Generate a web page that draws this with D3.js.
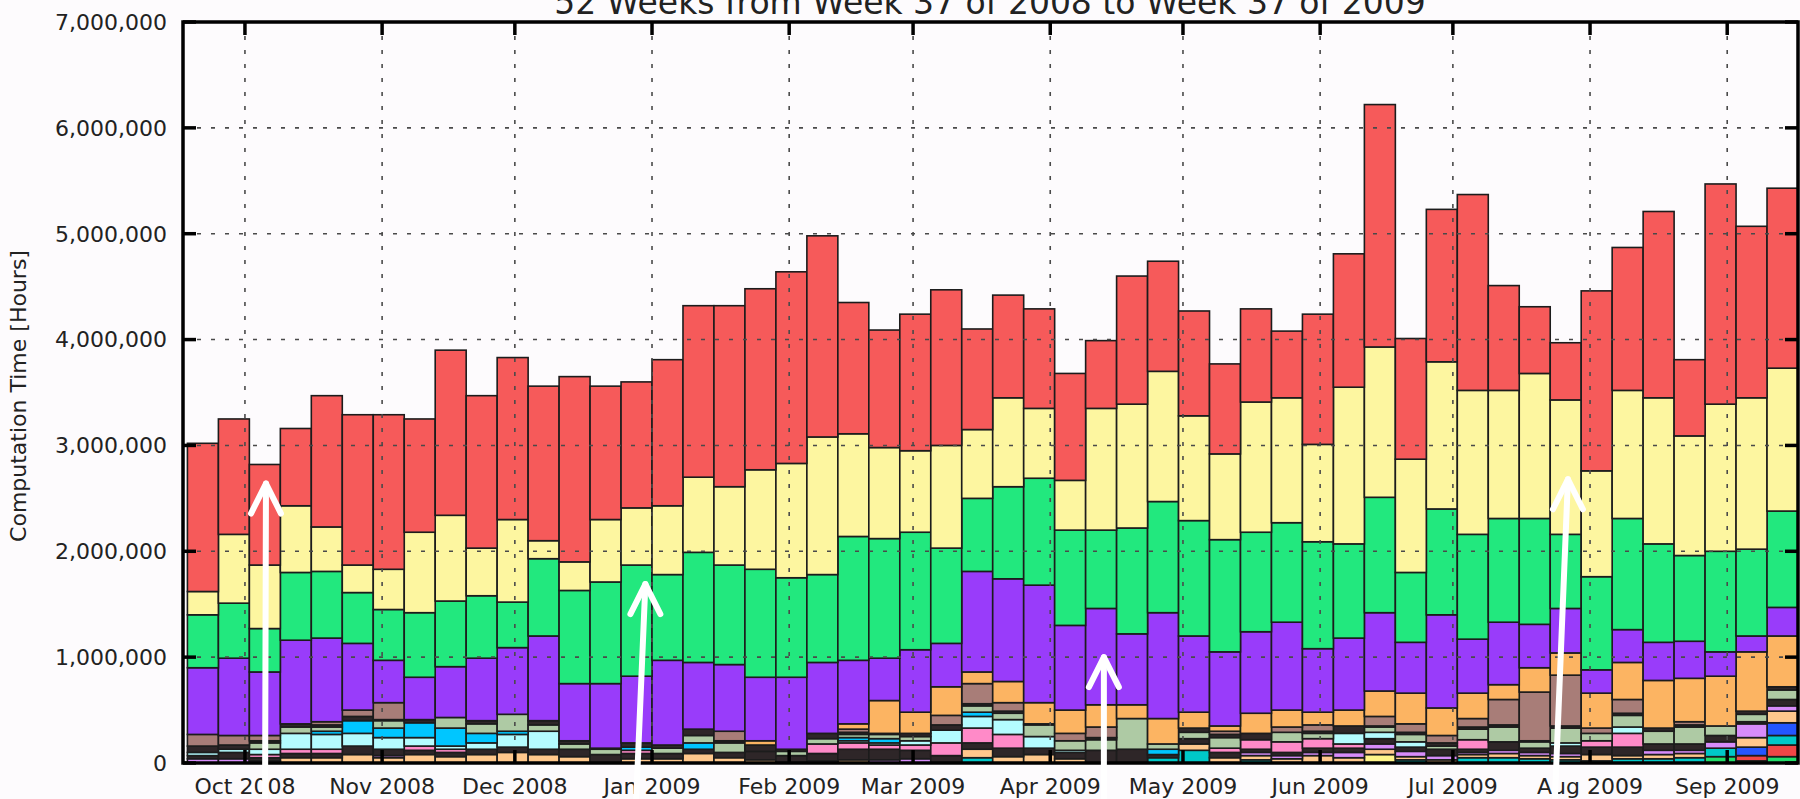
<!DOCTYPE html>
<html><head><meta charset="utf-8">
<script src="https://cdn.jsdelivr.net/npm/d3@7"></script>
<style>
html,body{margin:0;padding:0;background:#fdfbfd;}
svg{display:block;font-family:"DejaVu Sans",sans-serif;}
</style></head><body>
<svg id="chart" width="1800" height="799"></svg>
<script>
// ---- data (values in thousands of hours) ----
const weeks = ["2008-09-21","2008-09-28","2008-10-05","2008-10-12","2008-10-19","2008-10-26","2008-11-02","2008-11-09","2008-11-16","2008-11-23",
"2008-11-30","2008-12-07","2008-12-14","2008-12-21","2008-12-28","2009-01-04","2009-01-11","2009-01-18","2009-01-25","2009-02-01",
"2009-02-08","2009-02-15","2009-02-22","2009-03-01","2009-03-08","2009-03-15","2009-03-22","2009-03-29","2009-04-05","2009-04-12",
"2009-04-19","2009-04-26","2009-05-03","2009-05-10","2009-05-17","2009-05-24","2009-05-31","2009-06-07","2009-06-14","2009-06-21",
"2009-06-28","2009-07-05","2009-07-12","2009-07-19","2009-07-26","2009-08-02","2009-08-09","2009-08-16","2009-08-23","2009-08-30",
"2009-09-06","2009-09-13"];

const red    = [1400,1090,950,730,1240,1420,1460,1070,1560,1440, 1530,1460,1750,1260,1190,1380,1620,1710,1710,1810, 1900,1240,1110,1290,1470,950,970,940,1010,640, 1210,1040,990,850,880,630,1230,1260,2290,1140, 1440,1850,990,630,540,1700,1350,1760,720,2080, 1620,1700];
const yellow = [220,650,600,630,420,260,380,760,810,450, 780,170,270,590,540,650,710,740,940,1080, 1300,970,860,770,970,650,840,660,470,1150, 1170,1230,990,810,1230,1180,920,1480,1420,1070, 1390,1360,1210,1370,1270,1000,1210,1380,1130,1390, 1430,1350];
const green  = [500,520,410,640,630,480,480,610,620,590, 430,730,880,960,1050,810,1040,940,1020,940, 830,1170,1130,1110,900,690,870,1010,900,740, 1000,1050,1090,1060,940,940,1010,890,1090,660, 1000,990,980,1000,700,880,1050,930,810,950, 820,910];
const purple = [630,730,600,790,790,630,400,400,480,590, 630,800,540,610,630,800,630,630,600,680, 670,600,400,590,410,950,970,1110,800,910, 670,1000,720,700,770,830,600,680,740,480, 880,510,590,410,420,220,310,360,350,230, 150,270];
const orange = [0,0,0,0,0,0,0,0,0,0, 0,0,0,0,0,0,0,0,40,0, 0,50,310,200,270,110,200,200,220,210, 130,240,150,50,190,160,120,150,240,290, 260,240,140,230,210,330,350,450,410,470, 560,480];
const brown  = [110,90,50,0,30,60,160,0,0,0, 0,0,0,0,0,0,0,90,0,0, 0,30,0,0,90,190,80,0,70,100, 0,0,0,30,0,50,60,0,90,80, 70,80,240,460,480,50,130,0,30,0, 0,0];
const darkHigh = [60,40,20,30,20,40,10,30,0,30, 0,40,30,10,40,30,60,20,60,20, 50,20,10,30,50,20,20,10,0,20, 0,0,40,30,60,0,20,70,10,20, 30,20,20,10,20,0,20,30,20,0, 30,30];
const sage   = [0,0,60,60,40,0,70,0,100,90, 160,60,50,50,0,50,70,90,0,40, 50,30,40,40,0,60,60,110,90,100, 290,50,60,100,0,90,50,0,50,70, 30,100,140,60,140,70,110,120,160,90, 70,90];
const blue   = [0,0,0,0,30,120,90,140,170,90, 30,0,0,0,30,0,60,0,0,0, 0,30,40,0,0,40,0,0,0,0, 0,50,0,0,0,0,0,0,0,0, 0,0,0,0,0,0,0,0,0,0, 0,0];
const lightCyan = [30,30,50,150,140,120,110,80,30,60, 120,170,0,0,0,0,0,0,0,0, 0,20,20,40,120,110,140,110,20,0, 0,0,0,0,0,0,0,100,60,50, 0,0,0,0,30,0,60,0,0,0, 0,0];
const pink   = [0,0,30,40,40,0,0,40,30,0, 0,0,0,0,30,0,0,0,0,0, 90,60,40,50,120,140,130,0,0,0, 0,0,0,40,90,100,90,40,0,0, 0,90,0,0,0,60,130,0,0,0, 0,0];
const darkLow = [30,60,30,40,40,80,60,40,40,50, 50,50,70,80,50,50,40,50,80,70, 70,100,100,80,70,60,80,60,60,120, 130,30,50,50,30,30,40,40,50,40, 60,30,80,40,70,70,80,60,60,60, 20,60];
const lavender = [40,40,20,0,0,0,20,0,0,0, 0,0,0,0,0,0,0,0,0,0, 20,0,30,40,0,0,0,0,0,0, 0,0,0,0,30,30,30,50,50,50, 40,20,30,30,30,0,0,40,30,60, 130,50];
const peach  = [0,0,0,50,50,80,50,80,60,80, 100,80,60,0,40,40,90,50,30,0, 0,30,0,0,0,80,60,80,40,0, 0,0,60,50,40,40,70,50,50,30, 30,30,40,30,30,60,30,40,40,0, 90,110];
const paleYellow = [0,0,0,0,0,0,0,0,0,0, 0,0,0,0,0,0,0,0,0,0, 0,0,0,0,0,0,0,0,0,0, 0,0,0,0,0,0,0,0,80,0, 0,0,0,0,0,0,0,0,0,0, 0,0];
const royalBlue = [0,0,0,0,0,0,0,0,0,0, 0,0,0,0,0,0,0,0,0,0, 0,0,0,0,0,0,0,0,0,0, 0,0,0,0,0,0,0,0,0,0, 0,0,0,0,0,0,0,0,0,0, 80,120];
const teal   = [0,0,0,0,0,0,0,0,0,0, 0,0,0,0,0,0,0,0,0,0, 0,0,0,0,0,50,0,0,0,0, 0,50,120,0,30,0,0,0,0,30, 0,50,50,40,30,20,40,40,50,80, 0,90];
const red2   = [0,0,0,0,0,0,0,0,0,0, 0,0,0,0,0,0,0,0,0,0, 0,0,0,0,0,0,0,0,0,0, 0,0,0,0,0,0,0,0,0,0, 0,0,0,0,0,0,0,0,0,0, 50,110];
const green2 = [0,0,0,0,0,0,0,0,0,0, 0,0,0,0,0,0,0,0,0,0, 0,0,0,0,0,0,0,0,0,0, 0,0,0,0,0,0,0,0,0,0, 0,0,0,0,0,0,0,0,0,60, 20,60];

const yTicks = [0,1000,2000,3000,4000,5000,6000,7000];
const monthTicks = ["2008-10-01","2008-11-01","2008-12-01","2009-01-01","2009-02-01","2009-03-01","2009-04-01","2009-05-01","2009-06-01","2009-07-01","2009-08-01","2009-09-01"];
const titleText = "52 Weeks from Week 37 of 2008 to Week 37 of 2009";
const yTitle = "Computation Time [Hours]";

// annotation arrows (white overlay)
const arrowTip   = ["2008-10-05T18:00","2008-12-30T12:00","2009-04-13T03:00","2009-07-27T00:00"];
const arrowTail  = ["2008-10-05T13:00","2008-12-28T09:00","2009-04-13T03:00","2009-07-24T00:00"];
const arrowValue = [2640,1690,1000,2680];

// ---- series config (bottom -> top) ----
const series = [
  {key:"green2", values:green2, color:"#22dd6a"},
  {key:"red2", values:red2, color:"#f04646"},
  {key:"teal", values:teal, color:"#00c8c8"},
  {key:"royalBlue", values:royalBlue, color:"#2456ff"},
  {key:"paleYellow", values:paleYellow, color:"#fff48a"},
  {key:"peach", values:peach, color:"#ffc88c"},
  {key:"lavender", values:lavender, color:"#d78cfa"},
  {key:"darkLow", values:darkLow, color:"#2e2628"},
  {key:"pink", values:pink, color:"#ff8ac8"},
  {key:"lightCyan", values:lightCyan, color:"#b4fcff"},
  {key:"blue", values:blue, color:"#00c6ff"},
  {key:"sage", values:sage, color:"#aecaa4"},
  {key:"darkHigh", values:darkHigh, color:"#2e2628"},
  {key:"brown", values:brown, color:"#a87d78"},
  {key:"orange", values:orange, color:"#fcb462"},
  {key:"purple", values:purple, color:"#993cfa"},
  {key:"green", values:green, color:"#22e87e"},
  {key:"yellow", values:yellow, color:"#fdf6a0"},
  {key:"red", values:red, color:"#f65a5a"}
];

(function(){
const UNIT = 1000;
const parseDay = d3.timeParse("%Y-%m-%d");
const parseDT = d3.timeParse("%Y-%m-%dT%H:%M");

const rows = weeks.map((w,i) => {
  const r = {date: d3.timeHour.offset(parseDay(w), 12)};
  series.forEach(s => r[s.key] = s.values[i]*UNIT);
  return r;
});

const W = 1800, H = 799;
const pL = 183, pR = 1798, pT = 22, pB = 763;

const x = d3.scaleTime().domain([new Date(2008,8,17), new Date(2009,8,17)]).range([pL, pR]);
const y = d3.scaleLinear().domain([0, 7000000]).range([pB, pT]);

const svg = d3.select("#chart");
svg.append("rect").attr("width",W).attr("height",H).attr("fill","#fdfbfd");

svg.append("defs").append("clipPath").attr("id","plotclip")
  .append("rect").attr("x",pL).attr("y",pT).attr("width",pR-pL).attr("height",pB-pT);

const stack = d3.stack().keys(series.map(s=>s.key));
const layers = stack(rows);

const gBars = svg.append("g").attr("clip-path","url(#plotclip)");
layers.forEach((layer, li) => {
  gBars.append("g").attr("fill", series[li].color)
    .selectAll("rect")
    .data(layer.filter(d => d[1] - d[0] > 0))
    .join("rect")
    .attr("x", d => x(d3.timeHour.offset(d.data.date, -84)))
    .attr("width", d => x(d3.timeHour.offset(d.data.date, 84)) - x(d3.timeHour.offset(d.data.date, -84)))
    .attr("y", d => y(d[1]))
    .attr("height", d => y(d[0]) - y(d[1]))
    .attr("stroke","#1c1c1c")
    .attr("stroke-width",1.6);
});

// grid (drawn over bars, dotted)
const grid = svg.append("g").attr("stroke","#4a4a4a").attr("stroke-width",1.6).attr("stroke-dasharray","4,10");
grid.selectAll("line.h").data(yTicks.filter(t => t>0 && t<7000)).join("line").attr("class","h")
  .attr("x1",pL).attr("x2",pR).attr("y1",d=>y(d*UNIT)).attr("y2",d=>y(d*UNIT));
grid.selectAll("line.v").data(monthTicks).join("line").attr("class","v")
  .attr("y1",pT).attr("y2",pB).attr("x1",d=>x(parseDay(d))).attr("x2",d=>x(parseDay(d)));

// ticks (inward, mirrored)
const tickLen = 13;
const ticks = svg.append("g").attr("stroke","#000").attr("stroke-width",3.5);
yTicks.forEach(t => {
  const yy = y(t*UNIT);
  ticks.append("line").attr("x1",pL).attr("x2",pL+tickLen).attr("y1",yy).attr("y2",yy);
  ticks.append("line").attr("x1",pR).attr("x2",pR-tickLen).attr("y1",yy).attr("y2",yy);
});
monthTicks.forEach(m => {
  const xx = x(parseDay(m));
  ticks.append("line").attr("x1",xx).attr("x2",xx).attr("y1",pB).attr("y2",pB-tickLen);
  ticks.append("line").attr("x1",xx).attr("x2",xx).attr("y1",pT).attr("y2",pT+tickLen);
});

// frame
svg.append("rect").attr("x",pL).attr("y",pT).attr("width",pR-pL).attr("height",pB-pT)
  .attr("fill","none").attr("stroke","#000").attr("stroke-width",3.5);

// y tick labels
const fmt = d3.format(",");
svg.append("g").attr("font-size",22).attr("fill","#222").attr("text-anchor","end")
  .selectAll("text").data(yTicks).join("text")
  .attr("x",167).attr("y",d=>y(d*UNIT)).attr("dy","0.36em").text(d=>fmt(d*UNIT));

// x tick labels
const mfmt = d3.timeFormat("%b %Y");
svg.append("g").attr("font-size",22).attr("fill","#222").attr("text-anchor","middle")
  .selectAll("text").data(monthTicks).join("text")
  .attr("x",d=>x(parseDay(d))).attr("y",794).text(d=>mfmt(parseDay(d)));

// y title
svg.append("text").attr("transform","translate(26,396) rotate(-90)")
  .attr("text-anchor","middle").attr("font-size",22).attr("fill","#222").text(yTitle);

// chart title (partly cut by top edge, as in the reference)
svg.append("text").attr("x",990).attr("y",14).attr("text-anchor","middle")
  .attr("font-size",33).attr("fill","#222").text(titleText);

// white arrows overlay
const ga = svg.append("g").attr("stroke","#fff").attr("stroke-width",6)
  .attr("stroke-linecap","round").attr("stroke-linejoin","round").attr("fill","none");
arrowTip.forEach((t,i) => {
  const tx = x(parseDT(t)), ty = y(arrowValue[i]*UNIT);
  const bx = x(parseDT(arrowTail[i]));
  ga.append("line").attr("x1",bx).attr("y1",H+6).attr("x2",tx).attr("y2",ty);
  ga.append("path").attr("d", d3.line()([[tx-15,ty+30],[tx,ty],[tx+15,ty+30]]));
});
})();
</script>
</body></html>
